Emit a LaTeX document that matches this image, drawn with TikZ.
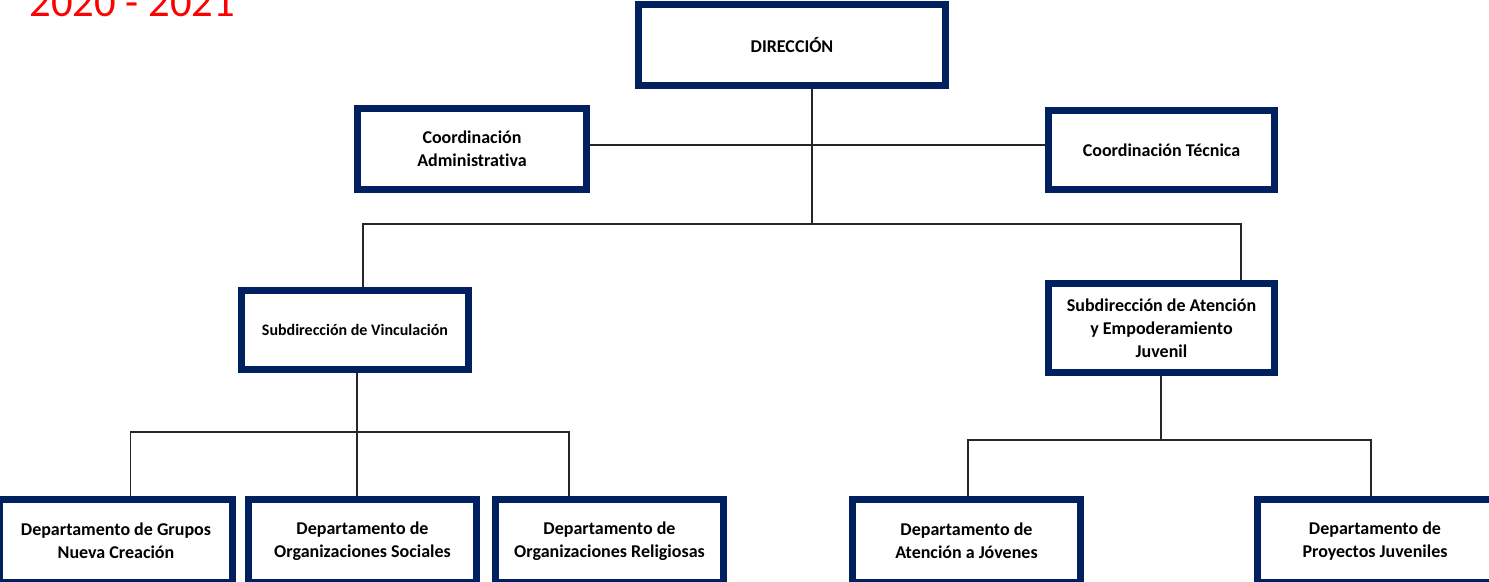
\documentclass[tikz,border=0pt]{standalone}
\usepackage{fontspec}
\setmainfont{Carlito}[Ligatures=NoCommon]
\definecolor{azul}{RGB}{0,32,96}
\tikzset{
  unidad/.style={draw=azul,line width=5.25pt,fill=white,align=center,inner sep=0pt,
    font=\bfseries\fontsize{13.5}{17.25}\selectfont},
  enlace/.style={line width=1pt,black!85}
}
\begin{document}
\begin{tikzpicture}[x=0.75pt,y=-0.75pt,line cap=butt,line join=miter]
	\useasboundingbox (0,0) rectangle (1489,582);
	\clip (0,0) rectangle (1489,582);
	\node[anchor=base west,text=red,font=\fontsize{32}{38}\selectfont] (anio) at (25,16) {2020 - 2021};
	% nivel superior
	\node[unidad,minimum width=230pt,minimum height=61pt] (dir) at (792,45) {DIRECCIÓN};
	\node[unidad,minimum width=172pt,minimum height=61pt] (adm) at (472,149) {Coordinación\\Administrativa};
	\node[unidad,minimum width=170pt,minimum height=59pt] (tec) at (1161.5,150) {Coordinación Técnica};
	% subdirecciones
	\node[unidad,minimum width=170pt,minimum height=59pt,font=\bfseries\fontsize{12}{15}\selectfont] (vin) at (355,330) {Subdirección de Vinculación};
	\node[unidad,minimum width=170pt,minimum height=67pt] (ate) at (1161.5,328) {Subdirección de Atención\\y Empoderamiento\\Juvenil};
	% departamentos
	\node[unidad,minimum width=175pt,minimum height=62pt] (dg) at (116,541) {Departamento de Grupos\\Nueva Creación};
	\node[unidad,minimum width=171pt,minimum height=62pt] (ds) at (362.5,541) {Departamento de\\Organizaciones Sociales};
	\node[unidad,minimum width=171pt,minimum height=62pt] (dr) at (609.5,541) {Departamento de\\Organizaciones Religiosas};
	\node[unidad,minimum width=171pt,minimum height=62pt] (dj) at (966.5,541) {Departamento de\\Atención a Jóvenes};
	\node[unidad,minimum width=176pt,minimum height=62pt] (dp) at (1375,541) {Departamento de\\Proyectos Juveniles};
	% conectores
	\coordinate (j1) at (812,224);
	\coordinate (j2) at (357,432);
	\coordinate (j3) at (1161,440);
	\draw[enlace] ([yshift=3pt]adm.east) -- ([yshift=3pt]adm.east -| tec.west);
	\draw[enlace] (dir.south -| j1) -- (j1);
	\draw[enlace] ([xshift=6pt]vin.north) |- (j1) -| ([xshift=59.6pt]ate.north);
	\draw[enlace] (vin.south -| j2) -- (j2);
	\draw[enlace] ([xshift=11pt]dg.north) |- (j2) -| ([xshift=-30.4pt]dr.north);
	\draw[enlace] (j2) -- (ds.north -| j2);
	\draw[enlace] (ate.south -| j3) -- (j3);
	\draw[enlace] ([xshift=1pt]dj.north) |- (j3) -| ([xshift=-3pt]dp.north);
\end{tikzpicture}
\end{document}
